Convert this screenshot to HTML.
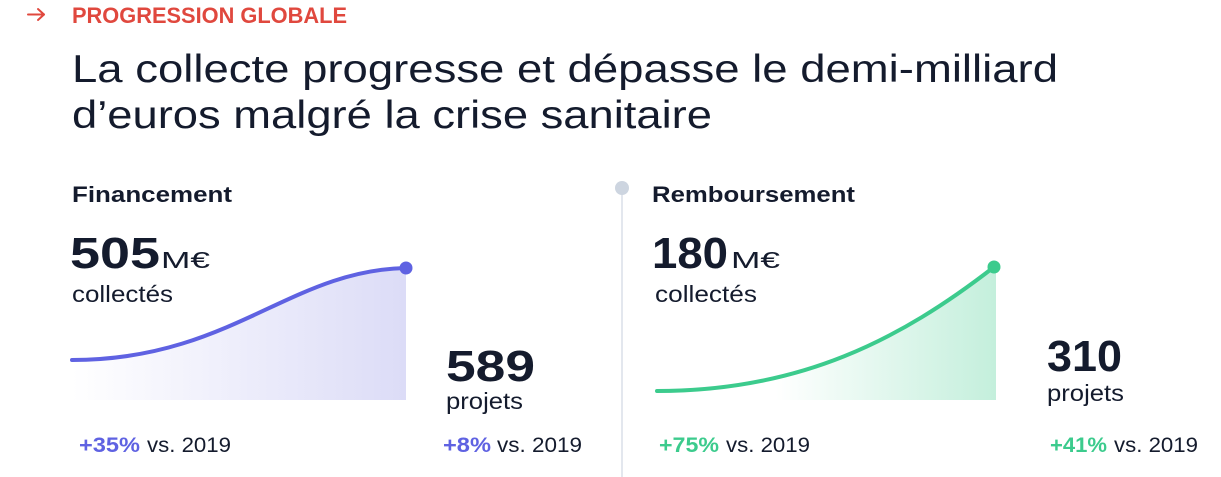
<!DOCTYPE html>
<html>
<head>
<meta charset="utf-8">
<style>
  html, body { margin: 0; padding: 0; background: #ffffff; }
  body { width: 1221px; height: 477px; overflow: hidden; }
  svg { display: block; }
  text { font-family: "Liberation Sans", Arial, sans-serif; }
</style>
</head>
<body>
<svg width="1221" height="477" viewBox="0 0 1221 477" xmlns="http://www.w3.org/2000/svg">
  <defs>
    <linearGradient id="g1" x1="0" y1="0" x2="1" y2="0">
      <stop offset="0" stop-color="#ffffff"/>
      <stop offset="1" stop-color="#dcdcf7"/>
    </linearGradient>
    <linearGradient id="g2" x1="0" y1="0" x2="1" y2="0">
      <stop offset="0" stop-color="#ffffff"/>
      <stop offset="0.35" stop-color="#ffffff"/>
      <stop offset="1" stop-color="#c4efdc"/>
    </linearGradient>
  </defs>

  <!-- Header -->
  <g stroke="#e0483e" stroke-width="2" fill="none" stroke-linecap="round" stroke-linejoin="round">
    <line x1="28" y1="14.5" x2="44" y2="14.5"/>
    <polyline points="38,9 44,14.5 38,20"/>
  </g>
  <text x="72" y="23" font-size="22" font-weight="700" fill="#e0483e" textLength="275" lengthAdjust="spacingAndGlyphs">PROGRESSION GLOBALE</text>

  <text x="72" y="82" font-size="39" fill="#141b2d" textLength="986" lengthAdjust="spacingAndGlyphs">La collecte progresse et dépasse le demi-milliard</text>
  <text x="72" y="128" font-size="39" fill="#141b2d" textLength="640" lengthAdjust="spacingAndGlyphs">d’euros malgré la crise sanitaire</text>

  <!-- Financement -->
  <text x="72" y="202" font-size="22" font-weight="700" fill="#141b2d" textLength="160" lengthAdjust="spacingAndGlyphs">Financement</text>
  <text x="70" y="268" font-size="44" font-weight="700" fill="#141b2d" textLength="90" lengthAdjust="spacingAndGlyphs">505</text>
  <text x="161" y="268" font-size="23" fill="#141b2d" textLength="49" lengthAdjust="spacingAndGlyphs">M€</text>
  <text x="72" y="302" font-size="23" fill="#141b2d" textLength="101" lengthAdjust="spacingAndGlyphs">collectés</text>

  <path d="M72,360 C230,360 290,270 406,268 L406,400 L72,400 Z" fill="url(#g1)"/>
  <path d="M72,360 C230,360 290,270 406,268" fill="none" stroke="#5f62e2" stroke-width="4" stroke-linecap="round"/>
  <circle cx="406" cy="268" r="6.5" fill="#5f62e2"/>

  <text x="446" y="381" font-size="44" font-weight="700" fill="#141b2d" textLength="89" lengthAdjust="spacingAndGlyphs">589</text>
  <text x="446" y="409" font-size="23" fill="#141b2d" textLength="77" lengthAdjust="spacingAndGlyphs">projets</text>

  <text x="79" y="452" font-size="21" font-weight="700" fill="#5f62e2" textLength="61" lengthAdjust="spacingAndGlyphs">+35%</text>
  <text x="147" y="452" font-size="21" fill="#141b2d" textLength="84" lengthAdjust="spacingAndGlyphs">vs. 2019</text>

  <text x="443" y="452" font-size="21" font-weight="700" fill="#5f62e2" textLength="48" lengthAdjust="spacingAndGlyphs">+8%</text>
  <text x="497" y="452" font-size="21" fill="#141b2d" textLength="85" lengthAdjust="spacingAndGlyphs">vs. 2019</text>

  <!-- Divider -->
  <line x1="622" y1="188" x2="622" y2="477" stroke="#e3e7ee" stroke-width="2"/>
  <circle cx="622" cy="188" r="7" fill="#cdd5e0"/>

  <!-- Remboursement -->
  <text x="652" y="202" font-size="22" font-weight="700" fill="#141b2d" textLength="203" lengthAdjust="spacingAndGlyphs">Remboursement</text>
  <text x="652" y="268" font-size="44" font-weight="700" fill="#141b2d" textLength="76" lengthAdjust="spacingAndGlyphs">180</text>
  <text x="731" y="268" font-size="23" fill="#141b2d" textLength="49" lengthAdjust="spacingAndGlyphs">M€</text>
  <text x="655" y="302" font-size="23" fill="#141b2d" textLength="102" lengthAdjust="spacingAndGlyphs">collectés</text>

  <path d="M657,391 C800,391 900,340 994,267 L996,267 L996,400 L657,400 Z" fill="url(#g2)"/>
  <path d="M657,391 C800,391 900,340 994,267" fill="none" stroke="#3ccb8d" stroke-width="4" stroke-linecap="round"/>
  <circle cx="994" cy="267" r="6.5" fill="#3ccb8d"/>

  <text x="1047" y="371" font-size="44" font-weight="700" fill="#141b2d" textLength="75" lengthAdjust="spacingAndGlyphs">310</text>
  <text x="1047" y="401" font-size="23" fill="#141b2d" textLength="77" lengthAdjust="spacingAndGlyphs">projets</text>

  <text x="659" y="452" font-size="21" font-weight="700" fill="#3ccb8d" textLength="60" lengthAdjust="spacingAndGlyphs">+75%</text>
  <text x="726" y="452" font-size="21" fill="#141b2d" textLength="84" lengthAdjust="spacingAndGlyphs">vs. 2019</text>

  <text x="1050" y="452" font-size="21" font-weight="700" fill="#3ccb8d" textLength="57" lengthAdjust="spacingAndGlyphs">+41%</text>
  <text x="1114" y="452" font-size="21" fill="#141b2d" textLength="84" lengthAdjust="spacingAndGlyphs">vs. 2019</text>
</svg>
</body>
</html>
